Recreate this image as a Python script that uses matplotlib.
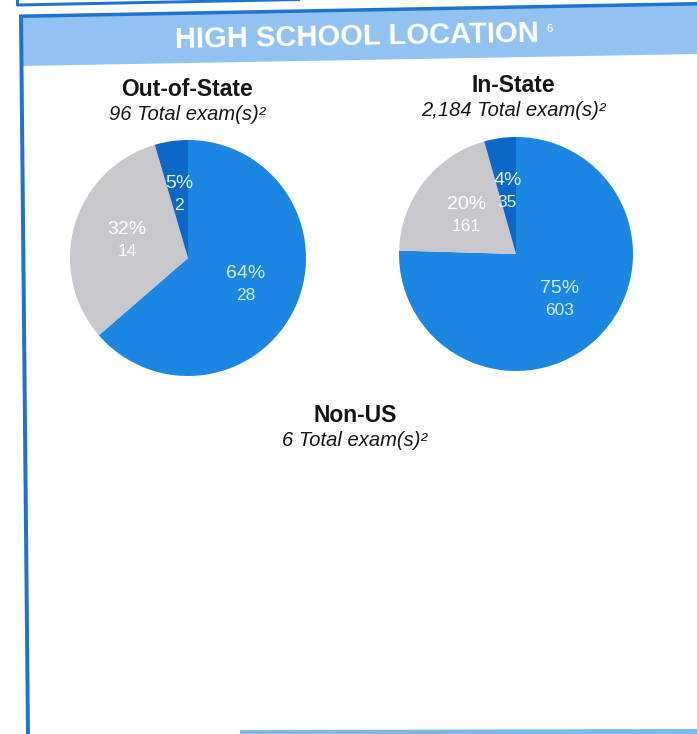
import numpy as np
import matplotlib.pyplot as plt
from matplotlib.patches import Polygon

plt.rcParams['font.family'] = ['Liberation Sans', 'DejaVu Sans']

# ################### DATA ####################
header = "HIGH SCHOOL LOCATION"
header_note = "6"

groups = ["Out-of-State", "In-State", "Non-US"]
group_totals = ["96", "2,184", "6"]

# counts per slice: main, other, small (clockwise from top)
out_state_counts = [28, 14, 2]
in_state_counts = [603, 161, 35]

slice_colors = ["#1c86e3", "#c8c8cc", "#0b68c6"]
label_colors = ["#d4e8fb", "#ffffff", "#e6f0fb"]

W, H = 697, 734


# ################### FUNCTIONS ####################
def pixAxes(fig, left, top, width, height):
    return fig.add_axes([left / W, 1 - (top + height) / H, width / W, height / H])


# the scan is a bit skewed, so the frame is drawn as polygons
def skewBand(bg, x0, x1, top0, top1, bot0, bot1, color):
    bg.add_patch(Polygon([(x0, top0), (x1, top1), (x1, bot1), (x0, bot0)],
                         closed=True, color=color, lw=0))


def drawPie(fig, counts, cx, cy, r):
    ax = pixAxes(fig, cx - r, cy - r, 2 * r, 2 * r)
    total = sum(counts)
    wedges, texts = ax.pie(counts, colors=slice_colors, startangle=90,
                           counterclock=False, radius=1,
                           wedgeprops=dict(linewidth=0))
    half = 11.0 / r
    for i, w in enumerate(wedges):
        mid = np.radians((w.theta1 + w.theta2) / 2.0)
        x = 0.54 * np.cos(mid)
        y = 0.54 * np.sin(mid)
        pct = 100.0 * counts[i] / total
        ax.text(x, y + half, "%.0f%%" % pct, ha="center", va="center",
                fontsize=14, color=label_colors[i])
        ax.text(x, y - half, str(counts[i]), ha="center", va="center",
                fontsize=12.5, color=label_colors[i])
    ax.set_xlim(-1, 1)
    ax.set_ylim(-1, 1)
    ax.set_aspect("auto")
    ax.axis("off")


def drawTitle(bg, x, y, name, total):
    bg.text(x, y, name, ha="center", va="center", fontsize=16.5,
            fontweight="bold", color="#151515")
    bg.text(x, y + 25, total + " Total exam(s)\u00b2", ha="center", va="center",
            fontsize=14.5, fontstyle="italic", color="#151515")


# ################### MAIN ####################
fig = plt.figure(figsize=(W / 100, H / 100), dpi=100)
bg = fig.add_axes([0, 0, 1, 1])
bg.set_xlim(0, W)
bg.set_ylim(H, 0)
bg.axis("off")

# previous box (cut at the top of the page)
skewBand(bg, 17, 300, 3.5, -2, 6.5, 1, "#1f73d0")
bg.add_patch(Polygon([(16, 0), (19, 0), (19, 6), (16, 6)], color="#1f73d0", lw=0))

# header band and frame
skewBand(bg, 20, W, 17, 4, 66, 54, "#92c2ef")
skewBand(bg, 19, W, 14.5, 2, 18, 5.5, "#1f73d0")
bg.add_patch(Polygon([(19, 15), (23, 15), (30, H), (26, H)], color="#1f73d0", lw=0))
bg.add_patch(Polygon([(240, 730), (W, 729), (W, H), (240, H)], color="#7fb7ea", lw=0))

bg.text(357, 37, header, ha="center", va="center", fontsize=21,
        fontweight="bold", color="white", rotation=1)
bg.text(549, 29, header_note, ha="center", va="center", fontsize=8,
        color="white", rotation=1)

drawTitle(bg, 187, 90, groups[0], group_totals[0])
drawTitle(bg, 513, 85, groups[1], group_totals[1])
drawTitle(bg, 355, 415, groups[2], group_totals[2])

drawPie(fig, out_state_counts, 188, 258, 118)
drawPie(fig, in_state_counts, 516, 254, 117)

fig.savefig("out.png", dpi=100)
